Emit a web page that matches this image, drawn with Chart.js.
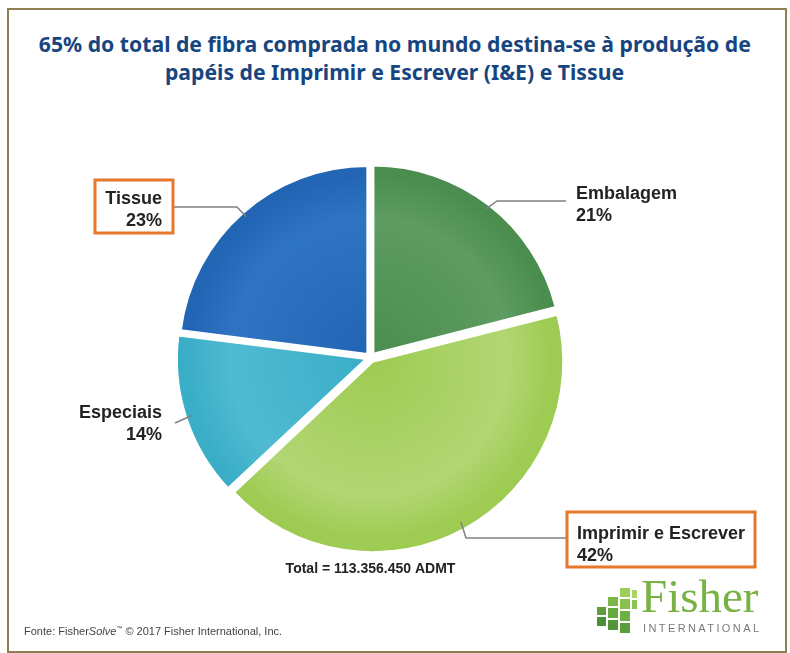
<!DOCTYPE html>
<html>
<head>
<meta charset="utf-8">
<script src="https://cdn.jsdelivr.net/npm/chart.js@4"></script>
<style>
    body { margin: 0; background: #fff; width: 790px; height: 653px; overflow: hidden; position: relative; }
    .frame { position: absolute; left: 7px; top: 8px; width: 776px; height: 641px; border: 2px solid #8d7f52; }
    .title { position: absolute; left: 0; width: 790px; text-align: center; font-family: 'Noto Sans', sans-serif; font-weight: bold; font-size: 21px; color: #17457f; white-space: nowrap; }
    .title span { display: inline-block; transform-origin: center; }
    #chart { position: absolute; left: 0; top: 0; }
    .fonte { position: absolute; left: 24px; top: 625px; font-family: 'Liberation Sans', Arial, sans-serif; font-size: 11px; color: #444; }
    .fonte sup { font-size: 6px; }
    .logo-text { position: absolute; left: 641px; top: 569px; font-family: 'Liberation Serif', serif; font-size: 47px; color: #78b243; }
    .logo-sub { position: absolute; left: 643px; top: 622px; font-family: 'Liberation Sans', sans-serif; font-size: 11px; letter-spacing: 2.4px; color: #7a7a7a; }
    .sq { position: absolute; }
</style>
</head>
<body>
<div class="frame"></div>
<div class="title" style="top:30px"><span>65% do total de fibra comprada no mundo destina-se à produção de</span></div>
<div class="title" style="top:58px"><span>papéis de Imprimir e Escrever (I&amp;E) e Tissue</span></div>
<canvas id="chart" width="790" height="653"></canvas>
<div class="fonte">Fonte: Fisher<i>Solve</i><sup>™</sup> © 2017 Fisher International, Inc.</div>
<div id="logo"></div>
<div class="logo-text">Fisher</div>
<div class="logo-sub">INTERNATIONAL</div>
<script>
const categories = ['Embalagem', 'Imprimir e Escrever', 'Especiais', 'Tissue'];
const shares = [21, 42, 14, 23];
const totalLabel = 'Total = 113.356.450 ADMT';

// light / base / rim colours for each slice
const sliceColors = [
    ['#5e9c61', '#4b8d4f', '#2c6a32'],
    ['#b2d673', '#9ecb52', '#76a536'],
    ['#50bad2', '#3aaec7', '#21869f'],
    ['#2f74c2', '#2165b4', '#13478b']
];

// squeeze the title like the condensed original
(function fitTitle() {
    const c = document.createElement('canvas').getContext('2d');
    c.font = "bold 21px 'Noto Sans'";
    const w = c.measureText('65% do total de fibra comprada no mundo destina-se à produção de').width;
    const s = 712 / w;
    document.querySelectorAll('.title span').forEach(sp => sp.style.transform = 'scaleX(' + s + ')');
})();

// little green blocks of the logo
const blocks = [
    [597, 607, 9, 8, '#5e9e3c'], [597, 617, 9, 9, '#4d8f34'],
    [608, 597, 10, 9, '#7ab648'], [608, 608, 10, 10, '#66a93f'], [608, 620, 10, 10, '#52953a'],
    [620, 588, 10, 9, '#9ccf5a'], [620, 599, 10, 10, '#86c24b'], [620, 611, 10, 10, '#6fb043'], [620, 623, 10, 10, '#5a9e3b'],
    [632, 590, 5, 8, '#a8d468'], [632, 600, 5, 9, '#8cc650']
];
const logo = document.getElementById('logo');
blocks.forEach(b => {
    const d = document.createElement('div');
    d.className = 'sq';
    d.style.cssText = `left:${b[0]}px;top:${b[1]}px;width:${b[2]}px;height:${b[3]}px;background:${b[4]}`;
    logo.appendChild(d);
});

const OFFSET = 19; // chart.js moves each arc by offset / 4

const labelPlugin = {
    id: 'sliceLabels',
    afterDatasetsDraw(chart, args, opts) {
        const ctx = chart.ctx;
        const meta = chart.getDatasetMeta(0);
        ctx.save();
        meta.data.forEach((arc, i) => {
            const cfg = opts.items[i];
            const mid = (arc.startAngle + arc.endAngle) / 2;
            const d = arc.outerRadius + OFFSET / 4 - 5;
            const ax = arc.x + Math.cos(mid) * d;
            const ay = arc.y + Math.sin(mid) * d;

            ctx.strokeStyle = '#808080';
            ctx.lineWidth = 1.5;
            ctx.beginPath();
            ctx.moveTo(ax, ay);
            cfg.line.forEach(p => ctx.lineTo(p[0], p[1]));
            ctx.stroke();

            if (cfg.box) {
                ctx.fillStyle = '#fff';
                ctx.fillRect(cfg.box[0], cfg.box[1], cfg.box[2], cfg.box[3]);
                ctx.strokeStyle = '#e5782c';
                ctx.lineWidth = 3;
                ctx.strokeRect(cfg.box[0], cfg.box[1], cfg.box[2], cfg.box[3]);
            }

            ctx.fillStyle = '#222';
            ctx.font = "bold 18px 'Liberation Sans', Arial, sans-serif";
            ctx.textAlign = cfg.align;
            ctx.textBaseline = 'alphabetic';
            ctx.fillText(categories[i], cfg.x, cfg.y);
            ctx.fillText(shares[i] + '%', cfg.x, cfg.y + 22);
        });

        const first = meta.data[0];
        ctx.fillStyle = '#222';
        ctx.font = "bold 14px 'Liberation Sans', Arial, sans-serif";
        ctx.textAlign = 'center';
        ctx.fillText(totalLabel, first.x, 573);
        ctx.restore();
    }
};

const ctxPie = document.getElementById('chart').getContext('2d');
const chartPie = new Chart(ctxPie, {
    type: 'pie',
    data: {
        labels: categories,
        datasets: [{
            data: shares,
            offset: OFFSET,
            borderWidth: 2,
            borderColor: '#ffffff',
            backgroundColor: (c) => {
                const area = c.chart.chartArea;
                const cols = sliceColors[c.dataIndex];
                if (!area) return cols[1];
                const cx = (area.left + area.right) / 2;
                const cy = (area.top + area.bottom) / 2;
                const r = (Math.min(area.right - area.left, area.bottom - area.top) - OFFSET - 2) / 2 + OFFSET / 4;
                const g = c.chart.ctx.createRadialGradient(cx, cy, 0, cx, cy, r);
                g.addColorStop(0, cols[1]);
                g.addColorStop(0.7, cols[0]);
                g.addColorStop(0.93, cols[1]);
                g.addColorStop((r - 4) / r, cols[1]);
                g.addColorStop(1, cols[2]);
                return g;
            }
        }]
    },
    options: {
        responsive: false,
        animation: false,
        layout: { padding: { top: 159, bottom: 97, left: 100, right: 149 } },
        plugins: {
            legend: { display: false },
            tooltip: { enabled: false },
            sliceLabels: {
                items: [
                    { align: 'left', x: 576, y: 199, line: [[497, 201], [566, 201]] },
                    { align: 'left', x: 577, y: 539, line: [[466, 538], [567, 538]], box: [567, 512, 188, 55] },
                    { align: 'right', x: 162, y: 418, line: [[175, 423]] },
                    { align: 'right', x: 162, y: 204, line: [[237, 207], [173, 207]], box: [95, 180, 78, 53] }
                ]
            }
        }
    },
    plugins: [labelPlugin]
});
</script>
</body>
</html>
